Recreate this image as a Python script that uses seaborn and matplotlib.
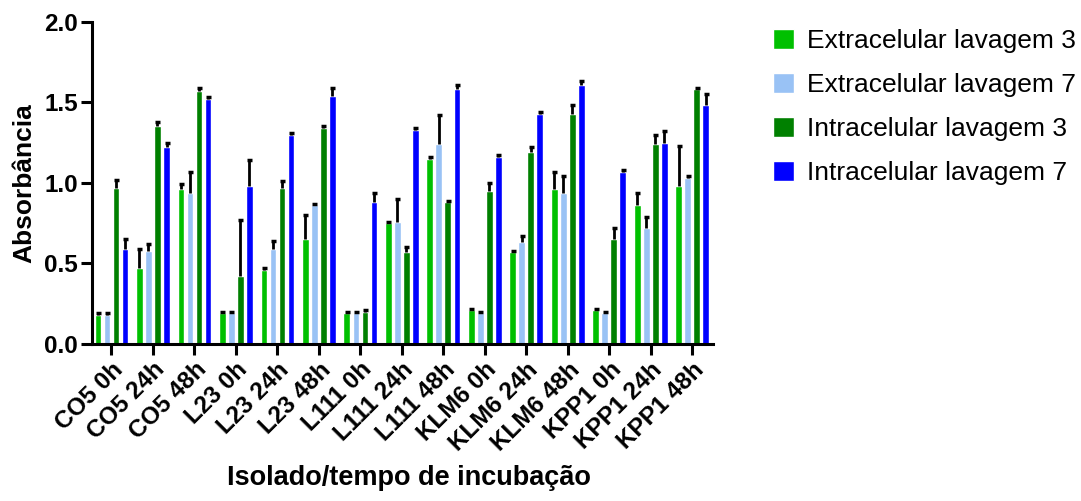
import numpy as np
import pandas as pd
import matplotlib
matplotlib.use("Agg")
import matplotlib.pyplot as plt
import seaborn as sns

categories = ["CO5 0h", "CO5 24h", "CO5 48h", "L23 0h", "L23 24h", "L23 48h",
              "L111 0h", "L111 24h", "L111 48h", "KLM6 0h", "KLM6 24h", "KLM6 48h",
              "KPP1 0h", "KPP1 24h", "KPP1 48h"]
series = ["Extracelular lavagem 3", "Extracelular lavagem 7",
          "Intracelular lavagem 3", "Intracelular lavagem 7"]

ext3 = [0.18, 0.47, 0.96, 0.19, 0.46, 0.65, 0.19, 0.75, 1.15, 0.21, 0.57, 0.96, 0.21, 0.86, 0.98]
ext7 = [0.18, 0.58, 0.94, 0.19, 0.59, 0.86, 0.19, 0.76, 1.24, 0.19, 0.63, 0.94, 0.19, 0.72, 1.03]
int3 = [0.97, 1.35, 1.57, 0.42, 0.97, 1.34, 0.20, 0.57, 0.88, 0.95, 1.19, 1.43, 0.65, 1.24, 1.58]
int7 = [0.59, 1.22, 1.52, 0.98, 1.30, 1.54, 0.88, 1.33, 1.58, 1.16, 1.43, 1.61, 1.07, 1.25, 1.48]

ext3_err = [0.01, 0.12, 0.03, 0.01, 0.01, 0.15, 0.01, 0.01, 0.01, 0.01, 0.01, 0.11, 0.01, 0.08, 0.25]
ext7_err = [0.01, 0.04, 0.13, 0.01, 0.05, 0.01, 0.01, 0.14, 0.18, 0.01, 0.04, 0.10, 0.01, 0.07, 0.01]
int3_err = [0.05, 0.03, 0.02, 0.35, 0.04, 0.01, 0.01, 0.03, 0.01, 0.05, 0.03, 0.05, 0.07, 0.06, 0.01]
int7_err = [0.06, 0.03, 0.01, 0.16, 0.01, 0.05, 0.06, 0.01, 0.03, 0.01, 0.01, 0.02, 0.01, 0.07, 0.07]

colors = ["#00C000", "#99C2F5", "#008000", "#0000FF"]

values = [ext3, ext7, int3, int7]
errors = [ext3_err, ext7_err, int3_err, int7_err]

df = pd.DataFrame({
    "cat": np.repeat([categories], 4, axis=0).ravel(),
    "series": np.repeat(series, len(categories)),
    "val": np.concatenate(values),
})

sns.set_style("ticks")
plt.rcParams["font.family"] = ["Liberation Sans", "DejaVu Sans"]
plt.rcParams["text.color"] = "black"
plt.rcParams["axes.labelcolor"] = "black"
plt.rcParams["xtick.color"] = "black"
plt.rcParams["ytick.color"] = "black"

fig = plt.figure(figsize=(10.81, 5.01), dpi=100)
ax = fig.add_axes([92 / 1081, 1 - 344 / 501, (713 - 92) / 1081, (344 - 21.7) / 501])

sns.barplot(data=df, x="cat", y="val", hue="series", order=categories,
            hue_order=series, palette=colors, width=0.87, gap=0.25,
            errorbar=None, saturation=1, ax=ax, legend=True)

for cont, err in zip(ax.containers, errors):
    xs = [p.get_x() + p.get_width() / 2 for p in cont.patches]
    ys = [p.get_height() for p in cont.patches]
    _, caps, _ = ax.errorbar(xs, ys, yerr=[np.zeros(len(err)), err], fmt="none",
                             ecolor="black", elinewidth=2, capsize=1.8, capthick=2.5,
                             zorder=3)
    caps[0].set_visible(False)

ax.set_ylim(0, 2.0)
ax.set_xlim(-0.47, 14.5)
ax.set_yticks([0, 0.5, 1.0, 1.5, 2.0])
ax.set_yticklabels(["0.0", "0.5", "1.0", "1.5", "2.0"])
ax.set_xticks(range(len(categories)))
ax.set_xticklabels(categories, rotation=45, ha="right", rotation_mode="anchor")

for lab in ax.get_xticklabels() + ax.get_yticklabels():
    lab.set_fontweight("bold")
    lab.set_fontsize(17.5)

sns.despine(ax=ax)
for s in ["left", "bottom"]:
    ax.spines[s].set_linewidth(2.2)
    ax.spines[s].set_color("black")
ax.tick_params(axis="both", width=2.2, length=8, color="black", pad=2)

ax.set_xlabel("Isolado/tempo de incubação", fontsize=19.5, fontweight="bold")
ax.xaxis.set_label_coords(0.51, -0.375)
ax.set_ylabel("Absorbância", fontsize=19, fontweight="bold", labelpad=6)

handles, labels = ax.get_legend_handles_labels()
ax.get_legend().remove()
fig.legend(handles, labels, loc="upper left", bbox_to_anchor=(773 / 1081, 1 - 29 / 501),
           frameon=False, fontsize=19, handlelength=0.8, handleheight=0.8,
           handletextpad=0.5, labelspacing=0.75, borderpad=0, borderaxespad=0)

fig.savefig("out.png", dpi=100)
